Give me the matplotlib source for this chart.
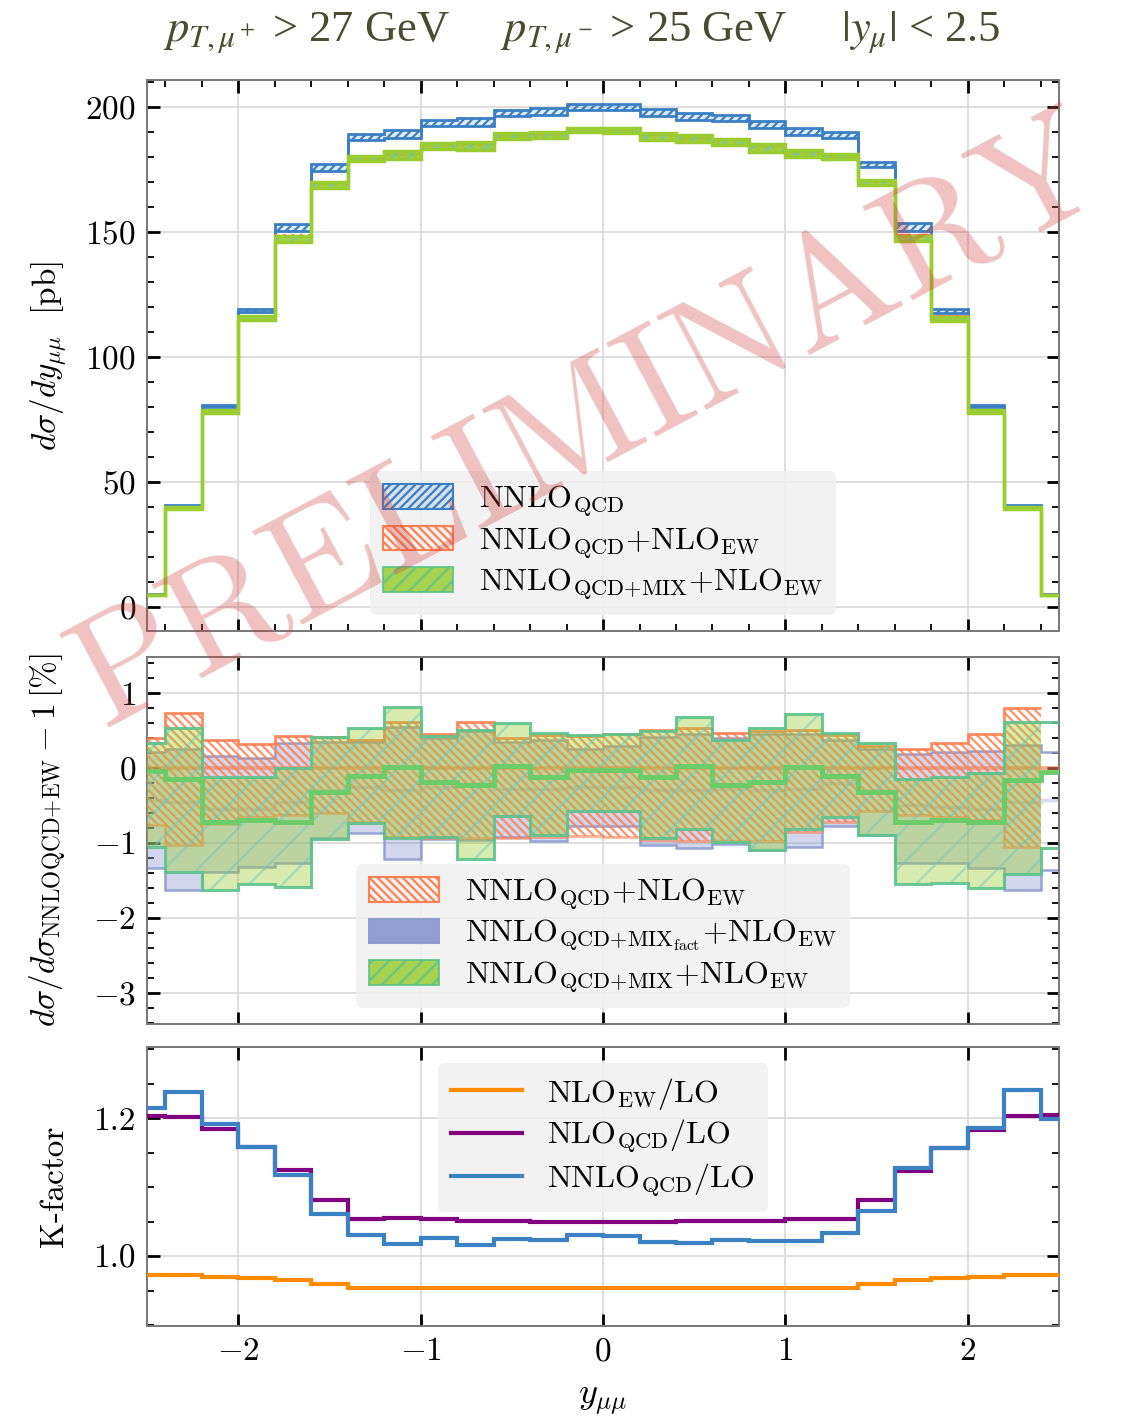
import numpy as np
import matplotlib
matplotlib.use("Agg")
import matplotlib.pyplot as plt
from matplotlib.patches import Patch
from matplotlib.lines import Line2D
from matplotlib.ticker import MultipleLocator, FixedLocator, FormatStrFormatter

plt.rcParams.update({
    "font.family": "serif",
    "font.serif": ["cmr10", "DejaVu Serif"],
    "mathtext.fontset": "cm",
    "axes.formatter.use_mathtext": True,
    "hatch.linewidth": 1.6,
    "axes.unicode_minus": True,
})

# ---------------- data ----------------
edges = np.array([-2.5, -2.4, -2.2, -2.0, -1.8, -1.6, -1.4, -1.2, -1.0, -0.8, -0.6,
                  -0.4, -0.2, 0.0, 0.2, 0.4, 0.6, 0.8, 1.0, 1.2, 1.4, 1.6, 1.8,
                  2.0, 2.2, 2.4, 2.5])

# differential cross section [pb]
nnlo_qcd_lo = [4.9, 40.2, 80.2, 117.9, 150.3, 174.3, 186.7, 187.5, 192.3, 192.4, 196.4,
               196.8, 198.8, 198.8, 196.4, 194.8, 194.2, 191.4, 188.8, 187.4, 175.8,
               150.3, 117.8, 80.2, 40.2, 4.9]
nnlo_qcd_hi = [5.4, 41.0, 81.0, 119.3, 153.3, 177.2, 189.3, 190.8, 194.9, 195.4, 198.9,
               199.4, 201.2, 201.2, 199.2, 197.4, 196.8, 194.2, 191.4, 189.8, 178.1,
               153.6, 119.2, 81.0, 41.0, 5.4]
nnlo_qcd_ew = [4.8, 39.8, 79.0, 116.5, 148.4, 169.4, 179.6, 181.0, 184.7, 185.0, 188.4,
               189.2, 190.9, 190.8, 188.6, 187.4, 186.6, 184.2, 181.4, 180.2, 170.2,
               148.7, 116.3, 79.0, 39.8, 4.8]

# ratios to NNLO_QCD+NLO_EW [%]
ew_up = [0.40, 0.74, 0.38, 0.32, 0.43, 0.42, 0.38, 0.62, 0.46, 0.62, 0.40, 0.44, 0.43,
         0.45, 0.51, 0.53, 0.47, 0.50, 0.51, 0.44, 0.30, 0.26, 0.34, 0.45, 0.80, 0.80]
ew_dn = [-0.76, -1.03, -0.75, -0.65, -0.63, -0.60, -0.72, -0.92, -0.93, -0.94, -0.94,
         -0.92, -0.91, -0.92, -0.96, -0.98, -0.97, -0.98, -0.85, -0.72, -0.58, -0.63,
         -0.65, -0.70, -1.05, -1.05]

fact_c = [-0.43, -0.45, -0.55, -0.55, -0.45, -0.30, -0.25, -0.30, -0.25, -0.22, -0.28,
          -0.28, -0.25, -0.25, -0.30, -0.30, -0.28, -0.30, -0.28, -0.20, -0.30, -0.50,
          -0.52, -0.55, -0.45, -0.43]
fact_up = [0.22, 0.25, 0.16, 0.14, 0.33, 0.35, 0.35, 0.55, 0.40, 0.50, 0.35, 0.38, 0.26,
           0.29, 0.42, 0.45, 0.40, 0.45, 0.45, 0.38, 0.25, 0.19, 0.22, 0.23, 0.31, 0.22]
fact_dn = [-1.34, -1.63, -1.39, -1.32, -1.27, -0.93, -0.87, -1.21, -0.95, -0.96, -0.92,
           -0.98, -0.78, -0.78, -1.03, -1.07, -1.01, -1.10, -1.05, -0.78, -0.90, -1.27,
           -1.27, -1.34, -1.63, -1.36]

mix_c = [-0.04, -0.15, -0.72, -0.70, -0.72, -0.32, -0.10, 0.01, -0.18, -0.23, 0.03,
         -0.12, -0.02, -0.02, -0.12, 0.03, -0.23, -0.18, 0.01, -0.10, -0.32, -0.72,
         -0.70, -0.72, -0.16, -0.05]
mix_up = [0.33, 0.54, -0.12, -0.12, 0.00, 0.41, 0.54, 0.81, 0.43, 0.51, 0.60, 0.47,
          0.44, 0.46, 0.49, 0.68, 0.37, 0.53, 0.72, 0.47, 0.34, -0.14, -0.12, -0.07,
          0.61, 0.61]
mix_dn = [-1.05, -1.39, -1.63, -1.55, -1.59, -0.95, -0.74, -0.94, -0.92, -1.22, -0.64,
          -0.90, -0.57, -0.58, -0.94, -0.81, -0.99, -1.10, -0.81, -0.65, -0.90, -1.55,
          -1.54, -1.60, -1.41, -1.07]

# K-factors
k_nlo_ew = [0.973, 0.972, 0.970, 0.968, 0.965, 0.959, 0.954, 0.953, 0.953, 0.953, 0.953,
            0.953, 0.953, 0.953, 0.953, 0.953, 0.953, 0.953, 0.953, 0.953, 0.959, 0.965,
            0.968, 0.970, 0.972, 0.973]
k_nlo_qcd = [1.203, 1.202, 1.184, 1.158, 1.125, 1.081, 1.054, 1.055, 1.053, 1.051, 1.051,
             1.050, 1.050, 1.050, 1.050, 1.051, 1.051, 1.051, 1.053, 1.054, 1.081, 1.123,
             1.157, 1.183, 1.203, 1.204]
k_nnlo_qcd = [1.214, 1.238, 1.191, 1.158, 1.118, 1.061, 1.031, 1.017, 1.026, 1.016, 1.025,
              1.023, 1.030, 1.029, 1.021, 1.019, 1.024, 1.022, 1.022, 1.034, 1.066, 1.127,
              1.157, 1.186, 1.241, 1.198]

# ---------------- styles ----------------
C_BLUE = "#3a7fc4"
C_ORANGE = "#ff7f50"
C_GREEN_FILL = "#9acd32"
C_GREEN_EDGE = "#5cc48c"
C_GREEN_HATCH = "#66c8c8"
C_GREEN_LINE = "#6acd6a"
C_FACT = "#8c9ad0"
C_K_EW = "#ff8c00"
C_K_QCD = "#800080"
C_K_NNLO = "#3a82c4"

arr = lambda a: np.asarray(a, dtype=float)
fe = edges[:-1]          # band fills stop at the last full bin

fig = plt.figure(figsize=(11.24, 14.26), dpi=100)
L, W = 0.1308, 0.8114
ax1 = fig.add_axes([L, 0.5575, W, 0.3864])
ax2 = fig.add_axes([L, 0.2819, W, 0.2574])
ax3 = fig.add_axes([L, 0.0701, W, 0.1957])

# ---------------- top: cross section ----------------
lo, hi = arr(nnlo_qcd_lo), arr(nnlo_qcd_hi)
ax1.stairs(hi[:-1], fe, baseline=lo[:-1], fill=True, facecolor=(0.23, 0.5, 0.77, 0.15),
           edgecolor=C_BLUE, hatch="////", linewidth=0, zorder=3)
ax1.stairs(hi, edges, baseline=None, color=C_BLUE, lw=2.0, zorder=4)
ax1.stairs(lo, edges, baseline=None, color=C_BLUE, lw=2.0, zorder=4)

ewc = arr(nnlo_qcd_ew)
ew_hi = ewc * (1 + arr(ew_up) / 100)
ew_lo = ewc * (1 + arr(ew_dn) / 100)
ax1.stairs(ew_hi[:-1], fe, baseline=ew_lo[:-1], fill=True, facecolor="none",
           edgecolor=C_ORANGE, hatch="\\\\\\\\", linewidth=0, zorder=5)
ax1.stairs(ewc, edges, baseline=None, color=C_ORANGE, lw=2.0, zorder=5)

mx_hi = ewc * (1 + arr(mix_up) / 100)
mx_lo = ewc * (1 + arr(mix_dn) / 100)
ax1.stairs(mx_hi[:-1], fe, baseline=mx_lo[:-1], fill=True, facecolor=C_GREEN_FILL,
           edgecolor=C_GREEN_HATCH, hatch="//", linewidth=0, alpha=0.9, zorder=6)
ax1.stairs(mx_hi, edges, baseline=None, color=C_GREEN_FILL, lw=2.5, zorder=6)
ax1.stairs(mx_lo, edges, baseline=None, color=C_GREEN_FILL, lw=2.5, zorder=6)

# ---------------- middle: ratio ----------------
fu, fd = arr(fact_up), arr(fact_dn)
ax2.stairs(fu[:-1], fe, baseline=fd[:-1], fill=True, facecolor=C_FACT, alpha=0.4,
           linewidth=0, zorder=2)
for v in (fu, fd):
    ax2.stairs(v, edges, baseline=None, color=C_FACT, lw=1.8, alpha=0.9, zorder=2.5)
ax2.stairs(arr(fact_c), edges, baseline=None, color=C_FACT, lw=2.5, alpha=0.35, zorder=2.5)

eu, ed = arr(ew_up), arr(ew_dn)
ax2.stairs(eu[:-1], fe, baseline=ed[:-1], fill=True, facecolor="none",
           edgecolor=C_ORANGE, hatch="\\\\\\\\", linewidth=0, alpha=0.85, zorder=3)
ax2.stairs(eu[:-1], fe, baseline=None, color=C_ORANGE, lw=2.0, alpha=0.9, zorder=3)
ax2.stairs(ed[:-1], fe, baseline=None, color=C_ORANGE, lw=2.0, alpha=0.6, zorder=3)
ax2.stairs(np.zeros(len(eu)), edges, baseline=None, color=C_ORANGE, lw=3.0, alpha=0.55,
           zorder=3)

gu, gd = arr(mix_up), arr(mix_dn)
ax2.stairs(gu[:-1], fe, baseline=gd[:-1], fill=True, facecolor=C_GREEN_FILL, alpha=0.4,
           linewidth=0, zorder=4)
ax2.stairs(gu[:-1], fe, baseline=gd[:-1], fill=True, facecolor="none",
           edgecolor=C_GREEN_HATCH, hatch="/", linewidth=0, alpha=0.45, zorder=4.2)
for v in (gu, gd):
    ax2.stairs(v, edges, baseline=None, color=C_GREEN_EDGE, lw=2.2, alpha=0.9, zorder=4.5)
ax2.stairs(arr(mix_c), edges, baseline=None, color=C_GREEN_LINE, lw=3.5, zorder=4.6)

# ---------------- bottom: K-factors ----------------
ax3.stairs(arr(k_nlo_ew), edges, baseline=None, color=C_K_EW, lw=3.0, zorder=3)
ax3.stairs(arr(k_nlo_qcd), edges, baseline=None, color=C_K_QCD, lw=3.0, zorder=3)
ax3.stairs(arr(k_nnlo_qcd), edges, baseline=None, color=C_K_NNLO, lw=3.0, zorder=4)

# ---------------- axes cosmetics ----------------
for ax in (ax1, ax2, ax3):
    ax.set_xlim(-2.5, 2.5)
    ax.xaxis.set_major_locator(MultipleLocator(1))
    ax.grid(True, which="major", color="#d8d8d8", lw=1.2, zorder=0)
    ax.set_axisbelow(True)
    ax.tick_params(which="both", direction="in", top=True, right=True, labelsize=24,
                   color="black")
    ax.tick_params(which="major", length=9, width=2.0, pad=8)
    ax.tick_params(which="minor", length=5, width=1.3)
    for s in ax.spines.values():
        s.set_color("#777777")
        s.set_linewidth(1.4)

ax1.set_ylim(-9.6, 210.8)
ax1.yaxis.set_major_locator(MultipleLocator(50))
ax1.yaxis.set_minor_locator(MultipleLocator(10))
ax1.xaxis.set_minor_locator(MultipleLocator(0.2))
ax1.tick_params(labelbottom=False)

ax2.set_ylim(-3.42, 1.484)
ax2.yaxis.set_major_locator(MultipleLocator(1))
ax2.yaxis.set_minor_locator(MultipleLocator(0.2))
ax2.tick_params(labelbottom=False)

ax3.set_ylim(0.8986, 1.303)
ax3.yaxis.set_major_locator(FixedLocator([1.0, 1.2]))
ax3.yaxis.set_minor_locator(MultipleLocator(0.05))
ax3.yaxis.set_major_formatter(FormatStrFormatter("%.1f"))

ax1.set_ylabel(r"$d\sigma/dy_{\mu\mu}\ \ [\mathrm{pb}]$", fontsize=24)
ax2.set_ylabel(r"$d\sigma/d\sigma_{\mathrm{NNLOQCD{+}EW}}-1\,[\%]$", fontsize=24)
ax3.set_ylabel("K-factor", fontsize=24)
for ax in (ax1, ax2, ax3):
    ax.yaxis.set_label_coords(-0.086, 0.5)
ax3.set_xlabel(r"$y_{\mu\mu}$", fontsize=26, labelpad=14)

# ---------------- legends ----------------
leg_kw = dict(fontsize=23, frameon=True, fancybox=True, framealpha=0.85,
              facecolor="#f0f0f0", edgecolor="none", borderaxespad=0,
              handlelength=2.2, handleheight=0.8, handletextpad=0.8, labelspacing=0.2,
              borderpad=0.4)

h_qcd = Patch(facecolor=(0.23, 0.5, 0.77, 0.15), edgecolor=C_BLUE, hatch="////", lw=1.5)
h_ew = Patch(facecolor="none", edgecolor=C_ORANGE, hatch="\\\\\\\\", lw=1.5)
h_mix = Patch(facecolor=C_GREEN_FILL, edgecolor=C_GREEN_EDGE, hatch="//", lw=1.5,
              alpha=0.85)
h_fact = Patch(facecolor=C_FACT, edgecolor=C_FACT, lw=1.5, alpha=0.95)

lab_qcd = r"$\mathrm{NNLO}_{\mathrm{QCD}}$"
lab_ew = r"$\mathrm{NNLO}_{\mathrm{QCD}}{+}\mathrm{NLO}_{\mathrm{EW}}$"
lab_mix = r"$\mathrm{NNLO}_{\mathrm{QCD{+}MIX}}{+}\mathrm{NLO}_{\mathrm{EW}}$"
lab_fact = r"$\mathrm{NNLO}_{\mathrm{QCD{+}MIX}_{\mathrm{fact}}}{+}\mathrm{NLO}_{\mathrm{EW}}$"

lg1 = ax1.legend([h_qcd, h_ew, h_mix], [lab_qcd, lab_ew, lab_mix], loc="lower center",
                 bbox_to_anchor=(0.5, 0.029), **leg_kw)
lg1.set_zorder(10)
lg2 = ax2.legend([h_ew, h_fact, h_mix], [lab_ew, lab_fact, lab_mix], loc="lower center",
                 bbox_to_anchor=(0.5, 0.044), **leg_kw)
lg2.set_zorder(10)

k_handles = [Line2D([], [], color=C_K_EW, lw=3), Line2D([], [], color=C_K_QCD, lw=3),
             Line2D([], [], color=C_K_NNLO, lw=3)]
k_labels = [r"$\mathrm{NLO}_{\mathrm{EW}}/\mathrm{LO}$",
            r"$\mathrm{NLO}_{\mathrm{QCD}}/\mathrm{LO}$",
            r"$\mathrm{NNLO}_{\mathrm{QCD}}/\mathrm{LO}$"]
lg3 = ax3.legend(k_handles, k_labels, loc="upper center", bbox_to_anchor=(0.5, 0.943),
                 **dict(leg_kw, handleheight=0.7))
lg3.set_zorder(10)

# ---------------- title and watermark ----------------
fig.text(0.518, 0.9775,
         r"$p_{T,\mu^+}$ > 27 GeV     $p_{T,\mu^-}$ > 25 GeV     $|y_\mu|$ < 2.5",
         ha="center", va="center", fontsize=32, color="#4b4b32",
         family="Liberation Serif", math_fontfamily="stix")

fig.text(0.525, 0.702, "PRELIMINARY", rotation=28, rotation_mode="anchor",
         ha="center", va="center", fontsize=112, color="#d04040", alpha=0.32,
         zorder=20)

fig.savefig("out.png", dpi=100)
